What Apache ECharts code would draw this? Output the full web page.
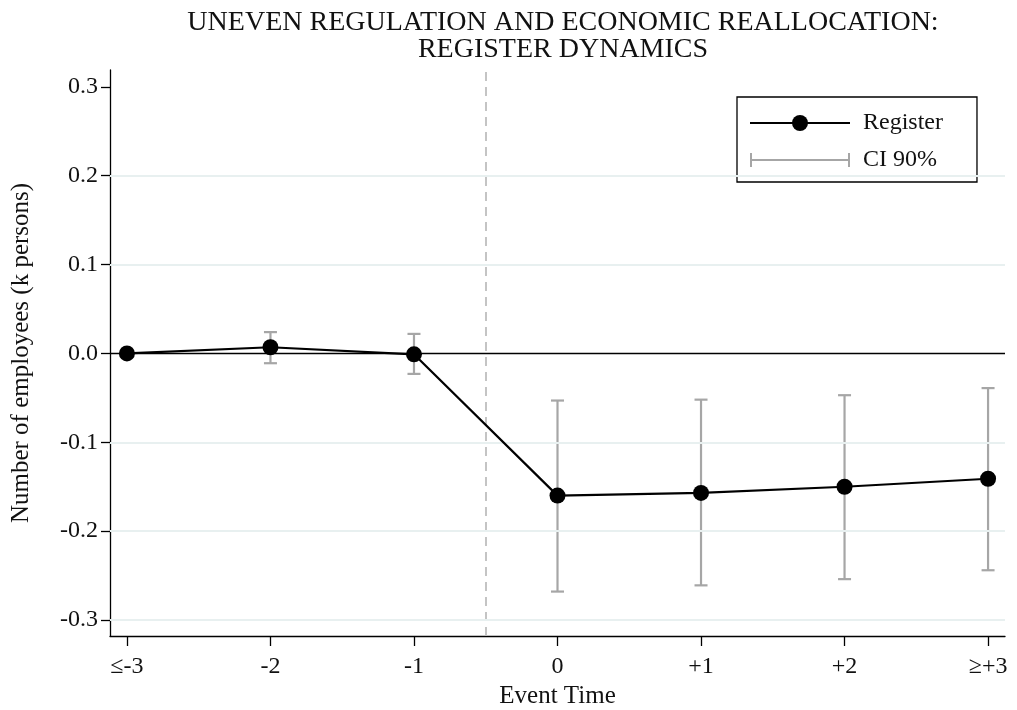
<!DOCTYPE html>
<html>
<head>
<meta charset="utf-8">
<script src="https://cdn.jsdelivr.net/npm/echarts@6/dist/echarts.min.js"></script>
<style>html,body{margin:0;padding:0;background:#fff}#c{width:1017px;height:710px}</style>
</head>
<body>
<div id="c"></div>
<script>
// ---- data ----
const eventTimes = [-3, -2, -1, 0, 1, 2, 3];
const xTickLabels = ['≤-3', '-2', '-1', '0', '+1', '+2', '≥+3'];
const registerValues = [0.000, 0.007, -0.001, -0.160, -0.157, -0.150, -0.141];
const ciLow = [null, -0.011, -0.023, -0.268, -0.261, -0.254, -0.244];
const ciHigh = [null, 0.024, 0.022, -0.053, -0.052, -0.047, -0.039];
const yTicks = [-0.3, -0.2, -0.1, 0.0, 0.1, 0.2, 0.3];
const yTickLabels = ['-0.3', '-0.2', '-0.1', '0.0', '0.1', '0.2', '0.3'];
const gridValues = [-0.3, -0.2, -0.1, 0.1, 0.2];
const treatmentLine = -0.5;

const FONT = '"Liberation Serif", "DejaVu Serif", serif';
const chart = echarts.init(document.getElementById('c'), null, {renderer: 'canvas'});

const lineData = eventTimes.map((x, i) => [x, registerValues[i]]);
const ciData = [];
eventTimes.forEach((x, i) => { if (ciLow[i] !== null) ciData.push([x, ciLow[i], ciHigh[i]]); });

chart.setOption({
  animation: false,
  backgroundColor: '#fff',
  title: {
    text: 'UNEVEN REGULATION AND ECONOMIC REALLOCATION:\nREGISTER DYNAMICS',
    left: 558, top: 4, textAlign: 'center',
    textStyle: {fontFamily: FONT, fontWeight: 'normal', fontSize: 28, lineHeight: 27, color: '#111'}
  },
  legend: {
    orient: 'vertical', left: 737, top: 97,
    padding: [14, 34, 10, 12],
    borderColor: '#000', borderWidth: 1.3, backgroundColor: '#fff',
    itemWidth: 100, itemHeight: 20, itemGap: 13,
    textStyle: {fontFamily: FONT, fontSize: 24, lineHeight: 24, color: '#111', padding: [0, 0, 0, 8]},
    data: [
      {name: 'Register'},
      {name: 'CI 90%', icon: 'path://M0,11 h100 v2 h-100 z M0,5 h2 v14 h-2 z M98,5 h2 v14 h-2 z', itemStyle: {color: '#a6a6a6'}}
    ]
  },
  grid: {left: 110, right: 12, top: 70, bottom: 74, containLabel: false, outerBoundsMode: 'none'},
  xAxis: {
    type: 'value', min: -3.118, max: 3.118,
    name: 'Event Time', nameLocation: 'middle', nameGap: 44,
    nameTextStyle: {fontFamily: FONT, fontSize: 25, color: '#111'},
    axisLine: {show: true, onZero: false, lineStyle: {color: '#000', width: 1.3}},
    axisTick: {show: true, customValues: eventTimes, length: 10, lineStyle: {color: '#000', width: 1.3}},
    axisLabel: {customValues: eventTimes, fontFamily: FONT, fontSize: 24, color: '#111', margin: 19,
      formatter: v => xTickLabels[eventTimes.indexOf(Math.round(v))]},
    splitLine: {show: false}
  },
  yAxis: {
    type: 'value', min: -0.318, max: 0.319,
    name: 'Number of employees (k persons)', nameLocation: 'middle', nameGap: 76,
    nameTextStyle: {fontFamily: FONT, fontSize: 25, color: '#111'},
    axisLine: {show: true, onZero: false, lineStyle: {color: '#000', width: 1.3}},
    axisTick: {show: true, customValues: yTicks, length: 9, lineStyle: {color: '#000', width: 1.3}},
    axisLabel: {customValues: yTicks, fontFamily: FONT, fontSize: 24, color: '#111', margin: 12,
      formatter: v => yTickLabels[yTicks.findIndex(t => Math.abs(t - v) < 1e-6)]},
    splitLine: {show: false}
  },
  series: [
    {
      name: 'gridlines', type: 'line', data: [], silent: true,
      markLine: {
        silent: true, symbol: 'none', label: {show: false},
        lineStyle: {color: '#e8f0f0', width: 2, type: 'solid'},
        data: gridValues.map(v => ({yAxis: v}))
      }
    },
    {
      name: 'CI 90%', type: 'custom', data: ciData, z: 3,
      itemStyle: {color: '#a6a6a6'},
      renderItem: function (params, api) {
        const x = api.value(0);
        const lo = api.coord([x, api.value(1)]);
        const hi = api.coord([x, api.value(2)]);
        const hw = 6.5;
        const st = {stroke: '#a6a6a6', lineWidth: 2.2};
        return {type: 'group', children: [
          {type: 'line', shape: {x1: lo[0], y1: lo[1], x2: hi[0], y2: hi[1]}, style: st},
          {type: 'line', shape: {x1: lo[0] - hw, y1: lo[1], x2: lo[0] + hw, y2: lo[1]}, style: st},
          {type: 'line', shape: {x1: hi[0] - hw, y1: hi[1], x2: hi[0] + hw, y2: hi[1]}, style: st}
        ]};
      }
    },
    {
      name: 'Register', type: 'line', data: lineData, z: 5,
      symbol: 'circle', symbolSize: 16, showSymbol: true,
      lineStyle: {color: '#000', width: 2.2},
      itemStyle: {color: '#000'},
      markLine: {
        silent: true, symbol: 'none', label: {show: false}, z: 2,
        data: [
          {yAxis: 0, lineStyle: {color: '#000', width: 1.3, type: 'solid'}},
          {xAxis: treatmentLine, lineStyle: {color: '#c4c4c4', width: 2, type: [9, 6]}}
        ]
      }
    }
  ]
});
</script>
</body>
</html>
